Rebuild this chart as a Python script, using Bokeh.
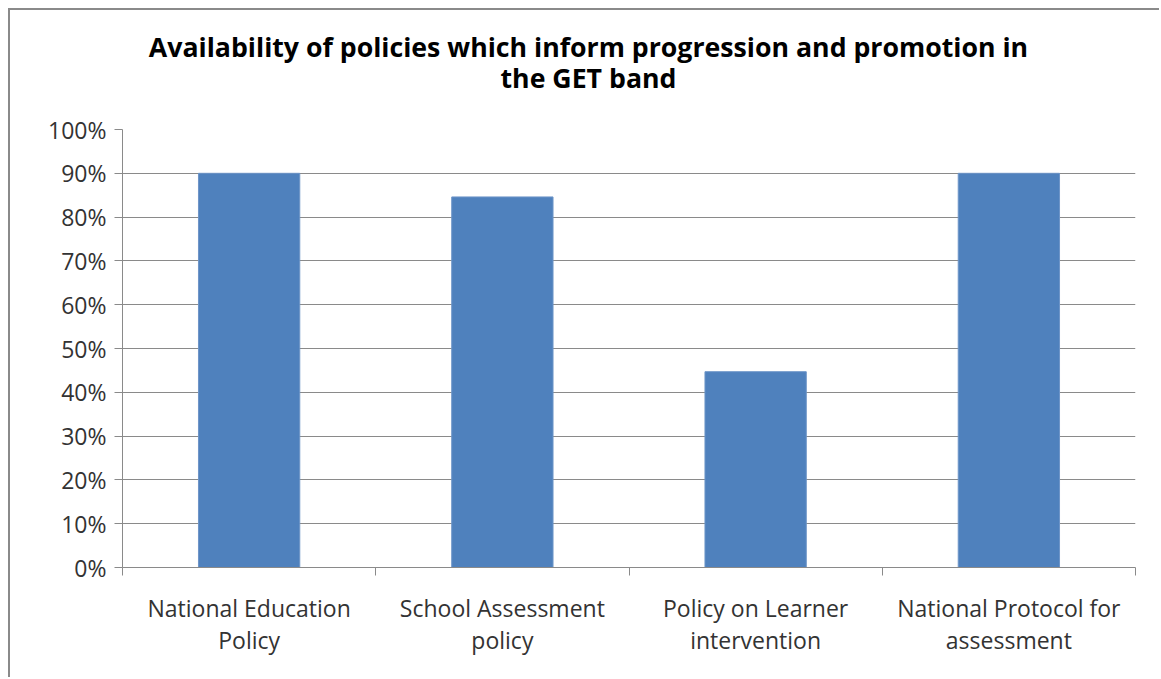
from bokeh.plotting import figure
from bokeh.models import FixedTicker, NumeralTickFormatter, LinearAxis, Range1d, ColumnDataSource
from bokeh.embed import file_html
from bokeh.resources import INLINE

categories = ["National Education\nPolicy", "School Assessment\npolicy",
              "Policy on Learner\nintervention", "National Protocol for\nassessment"]
values = [0.90, 0.846, 0.447, 0.90]
title_text = "Availability of policies which inform progression and promotion in\nthe GET band"

xpos = [i + 0.5 for i in range(len(categories))]
src = ColumnDataSource(dict(x=xpos, top=values))

H = 669
p = figure(width=1151, height=H, output_backend="svg", toolbar_location=None,
           x_range=Range1d(0, len(categories)), y_range=Range1d(0, 1),
           min_border_left=112, min_border_right=26, min_border_top=119, min_border_bottom=112)
p.styles = {"border-left": "2px solid #8a8a8a", "border-top": "2px solid #8a8a8a",
            "margin-left": "8px", "margin-top": "8px"}
p.outline_line_color = None

p.vbar(x="x", top="top", width=0.4, source=src, fill_color="#4F81BD", line_color="#6d95c8", line_width=1)

# y axis
p.yaxis.ticker = FixedTicker(ticks=[i / 10 for i in range(11)])
p.yaxis.formatter = NumeralTickFormatter(format="0%")
p.yaxis.major_tick_in = 0
p.yaxis.major_tick_out = 8
p.yaxis.minor_tick_line_color = None
p.yaxis.axis_line_color = "#8a8a8a"
p.yaxis.major_tick_line_color = "#8a8a8a"
p.yaxis.major_label_text_font = "Open Sans"
p.yaxis.major_label_text_font_size = "23px"
p.yaxis.major_label_text_color = "#333333"
p.yaxis.major_label_standoff = 8

# x axis
p.xaxis.ticker = FixedTicker(ticks=xpos, minor_ticks=list(range(len(categories) + 1)))
p.xaxis.major_label_overrides = {x: c for x, c in zip(xpos, categories)}
p.xaxis.major_tick_in = 0
p.xaxis.major_tick_out = 0
p.xaxis.minor_tick_in = 0
p.xaxis.minor_tick_out = 8
p.xaxis.minor_tick_line_color = "#8a8a8a"
p.xaxis.axis_line_color = "#8a8a8a"
p.xaxis.major_label_text_font = "Open Sans"
p.xaxis.major_label_text_font_size = "23px"
p.xaxis.major_label_text_color = "#333333"
p.xaxis.major_label_text_line_height = 1.0
p.xaxis.major_label_standoff = 16
p.xaxis.major_label_orientation = "horizontal"

p.xgrid.grid_line_color = None
p.ygrid.ticker = FixedTicker(ticks=[i / 10 for i in range(1, 11)])
p.ygrid.grid_line_color = "#8a8a8a"
p.ygrid.grid_line_width = 1

# two-line centred title, drawn as the single label of an undecorated axis above the plot
title_pos = 1.84
title_axis = LinearAxis(ticker=FixedTicker(ticks=[title_pos], minor_ticks=[]),
                        major_label_overrides={title_pos: title_text},
                        axis_line_color=None, major_tick_line_color=None, minor_tick_line_color=None,
                        major_label_text_font="Open Sans", major_label_text_font_size="26.7px",
                        major_label_text_font_style="bold", major_label_text_color="black",
                        major_label_text_line_height=0.82, major_label_standoff=28,
                        major_label_orientation="horizontal")
p.add_layout(title_axis, "above")

open("out.html", "w").write(file_html(p, INLINE))
